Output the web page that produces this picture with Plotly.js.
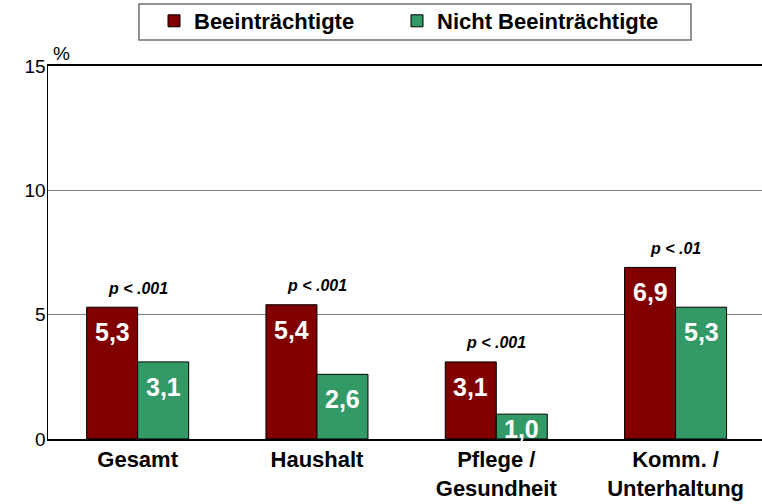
<!DOCTYPE html>
<html>
<head>
<meta charset="utf-8">
<script src="https://cdn.plot.ly/plotly-3.0.1.min.js"></script>
<style>
html,body{margin:0;padding:0;background:#fff;}
#chart{width:762px;height:504px;}
</style>
</head>
<body>
<div id="chart"></div>
<script>
var categories = ["Gesamt", "Haushalt", "Pflege /<br>Gesundheit", "Komm. /<br>Unterhaltung"];
var seriesNames = ["Beeinträchtigte", "Nicht Beeinträchtigte"];
var impaired = [5.3, 5.4, 3.1, 6.9];
var notImpaired = [3.1, 2.6, 1.0, 5.3];
var pValues = ["p < .001", "p < .001", "p < .001", "p < .01"];
var yTicks = [0, 5, 10, 15];

var FONT = '"Liberation Sans", Arial, sans-serif';
var W = 762, H = 504;
var M = {l: 48, r: 0, t: 66, b: 65};
var plotW = W - M.l - M.r;
var plotH = H - M.t - M.b;
var pxPerUnit = plotH / 15;
var xIdx = categories.map(function (_, i) { return i; });

function fmt(v) { return v.toFixed(1).replace('.', ','); }
function px2x(px) { return (px - M.l) / plotW; }
function px2y(py) { return 1 + (M.t - py) / plotH; }

var traces = [
  {
    type: 'bar', name: seriesNames[0], x: xIdx, y: impaired, legend: 'legend',
    marker: {color: '#800000', line: {color: '#000000', width: 1}},
    hoverinfo: 'none'
  },
  {
    type: 'bar', name: seriesNames[1], x: xIdx, y: notImpaired, legend: 'legend2',
    marker: {color: '#339966', line: {color: '#000000', width: 1}},
    hoverinfo: 'none'
  }
];

var annotations = [];
var barOff = 0.142;
[impaired, notImpaired].forEach(function (vals, s) {
  vals.forEach(function (v, i) {
    annotations.push({
      x: i + (s === 0 ? -barOff : barOff), y: v, xref: 'x', yref: 'y',
      text: '<b>' + fmt(v) + '</b>', showarrow: false,
      yanchor: 'middle', xanchor: 'center',
      yshift: -Math.min(25, 0.6 * v * pxPerUnit),
      font: {family: FONT, size: 25, color: '#ffffff'}
    });
  });
});
pValues.forEach(function (p, i) {
  annotations.push({
    x: i, y: impaired[i], xref: 'x', yref: 'y',
    text: '<b><i>' + p + '</i></b>', showarrow: false,
    yanchor: 'middle', xanchor: 'center', yshift: 19,
    font: {family: FONT, size: 16, color: '#000000'}
  });
});
annotations.push({
  x: px2x(61), y: px2y(54), xref: 'paper', yref: 'paper',
  text: '%', showarrow: false, xanchor: 'center', yanchor: 'middle',
  font: {family: FONT, size: 19, color: '#000000'}
});

var legendFont = {family: FONT, size: 22, color: '#000000', weight: 'bold'};
var layout = {
  width: W, height: H,
  margin: M,
  paper_bgcolor: '#ffffff', plot_bgcolor: '#ffffff',
  font: {family: FONT, color: '#000000'},
  barmode: 'group', bargap: 0.431, bargroupgap: 0,
  showlegend: true,
  legend: {
    orientation: 'h', xanchor: 'left', yanchor: 'top',
    x: px2x(154), y: px2y(0),
    font: legendFont, borderwidth: 0, bgcolor: 'rgba(0,0,0,0)',
    itemclick: false, itemdoubleclick: false
  },
  legend2: {
    orientation: 'h', xanchor: 'left', yanchor: 'top',
    x: px2x(397), y: px2y(0),
    font: legendFont, borderwidth: 0, bgcolor: 'rgba(0,0,0,0)',
    itemclick: false, itemdoubleclick: false
  },
  shapes: [
    {type: 'rect', xref: 'paper', yref: 'paper',
     x0: px2x(139), x1: px2x(691), y0: px2y(40), y1: px2y(4),
     line: {color: '#707070', width: 1.5}, fillcolor: 'rgba(0,0,0,0)', layer: 'below'}
  ],
  xaxis: {
    range: [-0.5, 3.482], tickmode: 'array', tickvals: xIdx, ticktext: categories,
    showgrid: false, zeroline: false, showline: true, linecolor: '#000000', linewidth: 2, mirror: true,
    ticks: '', tickfont: {family: FONT, size: 22, color: '#000000', weight: 'bold'},
    fixedrange: true
  },
  yaxis: {
    range: [0, 15], tickmode: 'array', tickvals: yTicks, ticktext: yTicks.map(String),
    showgrid: true, gridcolor: '#808080', gridwidth: 1, zeroline: false,
    showline: true, linecolor: '#000000', linewidth: 1.5,
    ticks: '', ticklabelstandoff: -3, tickfont: {family: FONT, size: 19, color: '#000000'},
    fixedrange: true
  },
  annotations: annotations
};

Plotly.newPlot('chart', traces, layout, {displayModeBar: false, staticPlot: true});
</script>
</body>
</html>
